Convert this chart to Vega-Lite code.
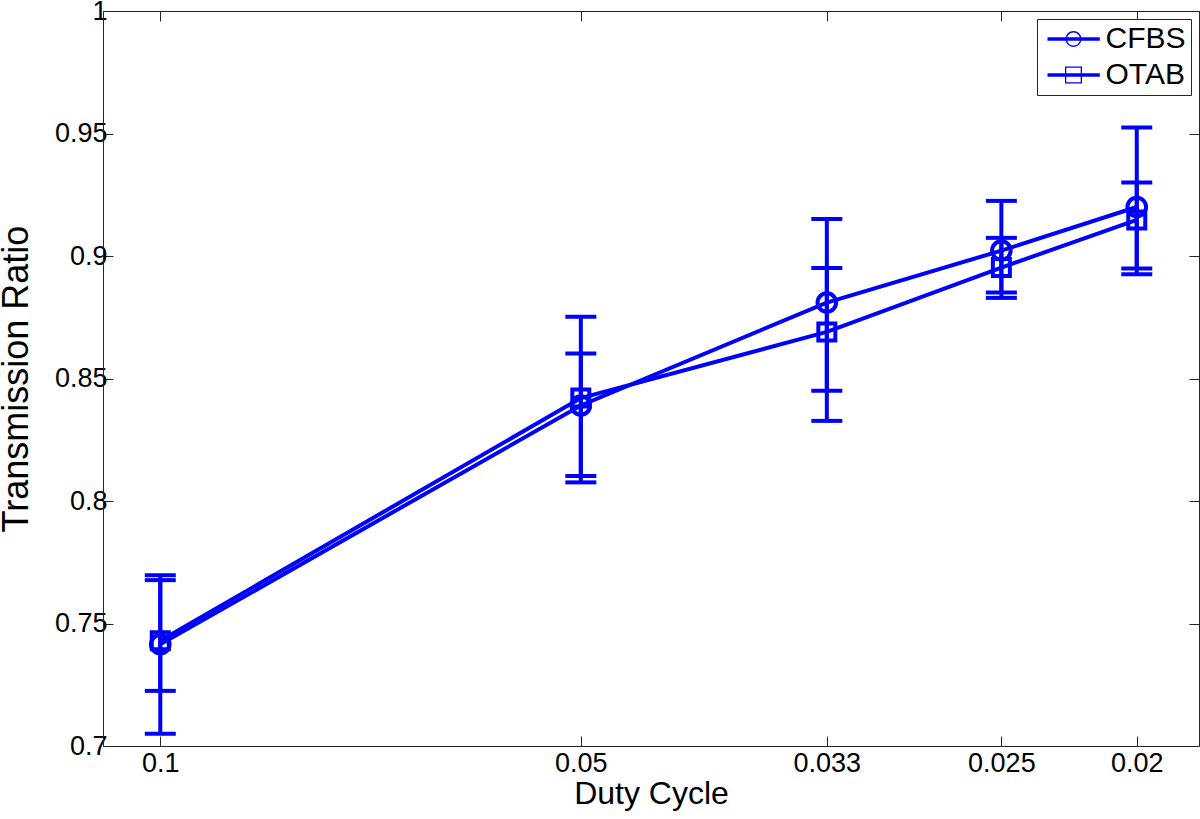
{
  "$schema": "https://vega.github.io/schema/vega-lite/v6.json",
  "width": 1096,
  "height": 735,
  "autosize": {"type": "none"},
  "padding": {"left": 103, "top": 11, "right": 1, "bottom": 73},
  "background": "white",
  "config": {
    "view": {"stroke": null},
    "font": "Liberation Sans",
    "axis": {
      "grid": false,
      "tickSize": -10,
      "tickColor": "#262626",
      "domainColor": "#262626",
      "domainWidth": 1,
      "tickWidth": 1,
      "labelColor": "black",
      "titleColor": "black",
      "labelFont": "Liberation Sans",
      "titleFont": "Liberation Sans",
      "labelFontSize": 27,
      "titleFontSize": 32,
      "titleFontWeight": "normal",
      "labelFlush": false,
      "labelOverlap": false
    }
  },
  "data": {
    "values": [
      {"dc": 0.1, "series": "CFBS", "ratio": 0.7415, "lo": 0.705, "hi": 0.7697},
      {"dc": 0.1, "series": "OTAB", "ratio": 0.743, "lo": 0.7225, "hi": 0.7677},
      {"dc": 0.05, "series": "CFBS", "ratio": 0.839, "lo": 0.8076, "hi": 0.8752},
      {"dc": 0.05, "series": "OTAB", "ratio": 0.842, "lo": 0.8102, "hi": 0.8602},
      {"dc": 0.033333, "series": "CFBS", "ratio": 0.881, "lo": 0.8327, "hi": 0.9151},
      {"dc": 0.033333, "series": "OTAB", "ratio": 0.869, "lo": 0.845, "hi": 0.8951},
      {"dc": 0.025, "series": "CFBS", "ratio": 0.9022, "lo": 0.8829, "hi": 0.9225},
      {"dc": 0.025, "series": "OTAB", "ratio": 0.8953, "lo": 0.8851, "hi": 0.9074},
      {"dc": 0.02, "series": "CFBS", "ratio": 0.92, "lo": 0.8926, "hi": 0.9525},
      {"dc": 0.02, "series": "OTAB", "ratio": 0.9147, "lo": 0.8949, "hi": 0.93}
    ]
  },
  "layer": [
    {
      "mark": {"type": "line", "color": "#0000FF", "strokeWidth": 4},
      "encoding": {
        "x": {
          "field": "dc", "type": "quantitative",
          "scale": {"type": "log", "domain": [0.1099, 0.01805], "nice": false, "zero": false},
          "axis": {
            "orient": "bottom",
            "values": [0.1, 0.05, 0.033333, 0.025, 0.02],
            "labelExpr": "datum.value > 0.09 ? '0.1' : datum.value > 0.04 ? '0.05' : datum.value > 0.03 ? '0.033' : datum.value > 0.022 ? '0.025' : '0.02'",
            "labelPadding": 14,
            "title": "Duty Cycle",
            "titlePadding": 2
          }
        },
        "y": {
          "field": "ratio", "type": "quantitative",
          "scale": {"domain": [0.7, 1], "nice": false, "zero": false},
          "axis": {
            "orient": "left",
            "values": [0.7, 0.75, 0.8, 0.85, 0.9, 0.95, 1],
            "format": ".2~f",
            "labelPadding": 6,
            "title": "Transmission Ratio",
            "titleFontSize": 36,
            "titlePadding": 19
          }
        },
        "detail": {"field": "series", "type": "nominal"}
      }
    },
    {
      "transform": [{"filter": "datum.series == 'CFBS'"}],
      "mark": {"type": "point", "shape": "circle", "filled": false, "color": "#0000FF", "strokeWidth": 4, "size": 346, "opacity": 1},
      "encoding": {
        "x": {"field": "dc", "type": "quantitative", "axis": null},
        "y": {"field": "ratio", "type": "quantitative", "axis": null}
      }
    },
    {
      "transform": [{"filter": "datum.series == 'OTAB'"}],
      "mark": {"type": "point", "shape": "square", "filled": false, "color": "#0000FF", "strokeWidth": 4, "size": 289, "opacity": 1},
      "encoding": {
        "x": {"field": "dc", "type": "quantitative", "axis": null},
        "y": {"field": "ratio", "type": "quantitative", "axis": null}
      }
    },
    {
      "mark": {"type": "rule", "color": "#0000FF", "strokeWidth": 4},
      "encoding": {
        "x": {"field": "dc", "type": "quantitative", "axis": null},
        "y": {"field": "lo", "type": "quantitative", "axis": null},
        "y2": {"field": "hi"}
      }
    },
    {
      "mark": {"type": "tick", "orient": "horizontal", "color": "#0000FF", "size": 31, "thickness": 4, "opacity": 1},
      "encoding": {
        "x": {"field": "dc", "type": "quantitative", "axis": null},
        "y": {"field": "lo", "type": "quantitative", "axis": null}
      }
    },
    {
      "mark": {"type": "tick", "orient": "horizontal", "color": "#0000FF", "size": 31, "thickness": 4, "opacity": 1},
      "encoding": {
        "x": {
          "field": "dc", "type": "quantitative",
          "axis": {"orient": "top", "values": [0.1, 0.05, 0.033333, 0.025, 0.02], "labels": false, "title": null}
        },
        "y": {
          "field": "hi", "type": "quantitative",
          "axis": {"orient": "right", "values": [0.7, 0.75, 0.8, 0.85, 0.9, 0.95, 1], "labels": false, "title": null}
        }
      }
    },
    {
      "transform": [{"filter": "datum.series == 'none'"}],
      "mark": {"type": "point", "filled": true, "color": "#0000FF", "size": 900, "strokeWidth": 0, "opacity": 1},
      "encoding": {
        "x": {"field": "dc", "type": "quantitative", "axis": null},
        "y": {"field": "ratio", "type": "quantitative", "axis": null},
        "shape": {
          "field": "series", "type": "nominal",
          "scale": {
            "domain": ["CFBS", "OTAB"],
            "range": [
              "M-0.633,-0.117H2.853V0.117H-0.633Z M1.63,0A0.53,0.53 0 1,1 0.57,0A0.53,0.53 0 1,1 1.63,0Z M1.54,0A0.44,0.44 0 1,0 0.66,0A0.44,0.44 0 1,0 1.54,0Z",
              "M-0.633,-0.117H2.853V0.117H-0.633Z M0.533,-0.567H1.667V0.567H0.533Z M0.62,-0.48V0.48H1.58V-0.48Z"
            ]
          },
          "legend": {
            "title": null,
            "orient": "top-right",
            "offset": 8,
            "padding": 5,
            "rowPadding": 6,
            "labelOffset": 33.5,
            "labelFontSize": 30,
            "labelFont": "Liberation Sans",
            "labelColor": "black",
            "labelLimit": 0,
            "strokeColor": "#262626",
            "fillColor": "white",
            "cornerRadius": 0,
            "symbolStrokeWidth": 0,
            "symbolFillColor": "#0000FF",
            "symbolOpacity": 1,
            "symbolSize": 900
          }
        }
      }
    }
  ],
  "resolve": {"axis": {"x": "independent", "y": "independent"}}
}
